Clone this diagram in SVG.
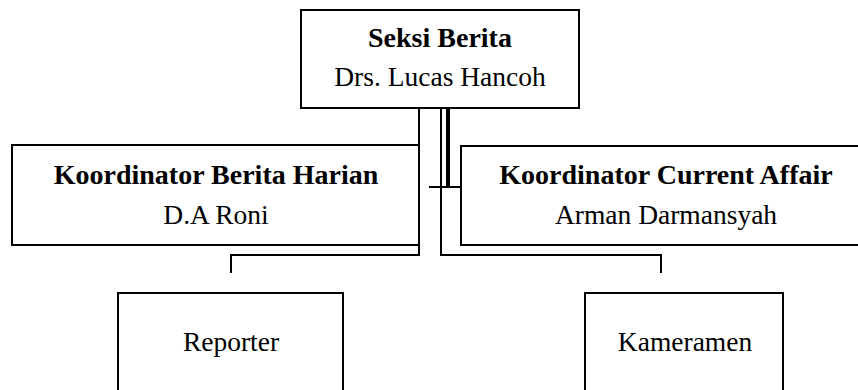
<svg xmlns="http://www.w3.org/2000/svg" width="858" height="390" viewBox="0 0 858 390">
<style>
.box{fill:#fff;stroke:#000;stroke-width:2}
.ln{fill:none;stroke:#000;stroke-width:2}
.b{font-family:"Liberation Serif",serif;font-size:28px;font-weight:bold;text-anchor:middle;fill:#000}
.r{font-family:"Liberation Serif",serif;font-size:27.5px;text-anchor:middle;fill:#000}
</style>
<rect width="858" height="390" fill="#fff"/>
<g id="connectors">
<path class="ln" d="M419,109 V255 H231 V273"/>
<path class="ln" d="M441,109 V255 H661 V273"/>
<path class="ln" d="M448,109 V187" style="stroke-width:4"/>
<path class="ln" d="M429,187 H461"/>
</g>
<g id="seksi-berita">
<rect class="box" x="301" y="10" width="278" height="98"/>
<text class="b" x="440" y="47">Seksi Berita</text>
<text class="r" x="440" y="86">Drs. Lucas Hancoh</text>
</g>
<g id="koordinator-berita-harian">
<rect class="box" x="12" y="145" width="407" height="100"/>
<text class="b" x="216" y="184">Koordinator Berita Harian</text>
<text class="r" x="216" y="224">D.A Roni</text>
</g>
<g id="koordinator-current-affair">
<rect class="box" x="461" y="146" width="402" height="99"/>
<text class="b" x="666" y="184">Koordinator Current Affair</text>
<text class="r" x="666" y="224">Arman Darmansyah</text>
</g>
<g id="reporter">
<rect class="box" x="118" y="293" width="225" height="110"/>
<text class="r" x="231" y="351">Reporter</text>
</g>
<g id="kameramen">
<rect class="box" x="585" y="293" width="198" height="110"/>
<text class="r" x="685" y="351">Kameramen</text>
</g>
</svg>
